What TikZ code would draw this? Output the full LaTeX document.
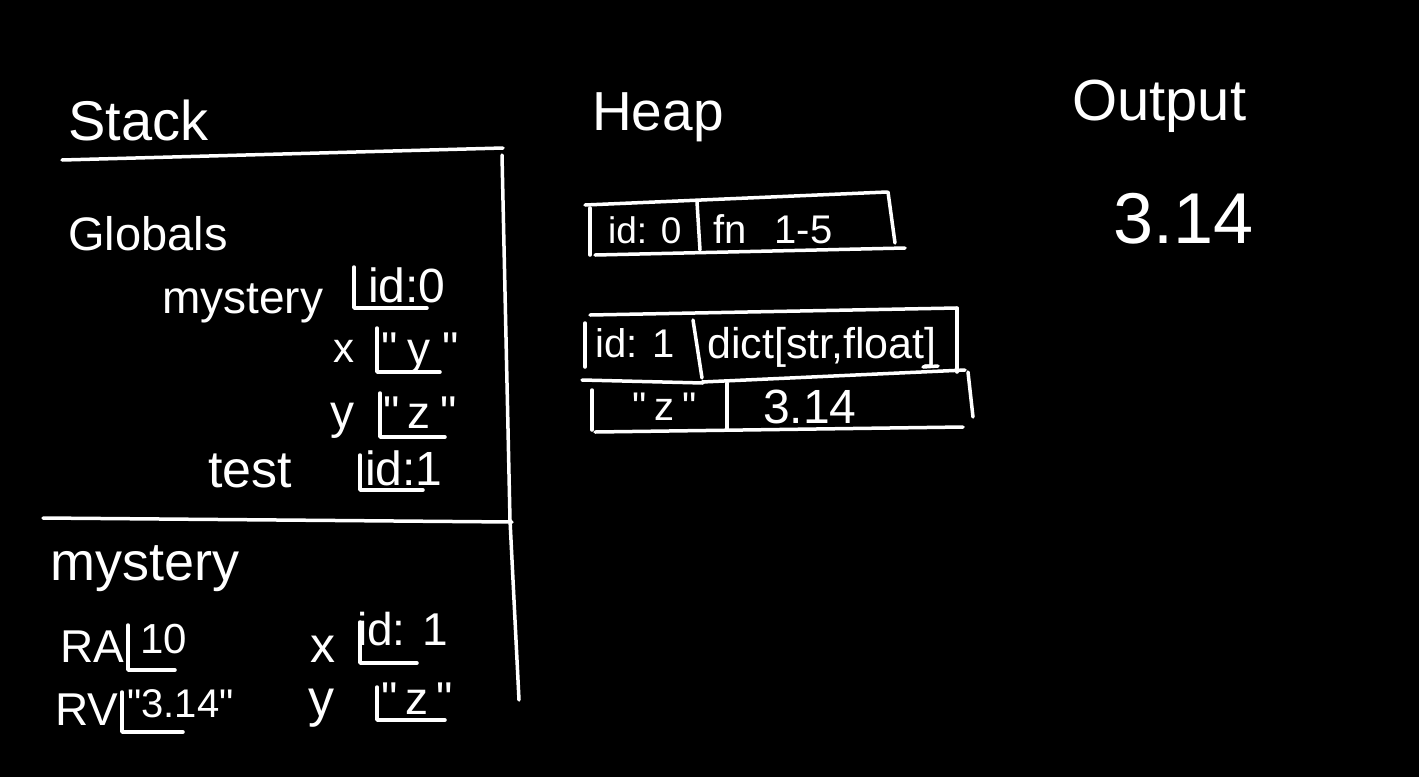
\documentclass[tikz,border=0pt]{standalone}
\usepackage{fontspec}
\setmainfont{Liberation Sans}[Ligatures=TeXOff]
\newcommand\myfs[1]{\fontsize{#1pt}{#1pt}\selectfont}
\begin{document}
\begin{tikzpicture}[x=1pt,y=-1pt,
  lbl/.style={text=white, anchor=base west, inner sep=0pt, font=\myfs{#1}},
  pen/.style={draw=white, line width=3.5pt, line cap=round, line join=round}]
\fill[black] (0,0) rectangle (1419,777);
\useasboundingbox (0,0) rectangle (1419,777);

% ---------- titles ----------
\node[lbl=56] (stack) at (68,140) {Stack};
\node[lbl=55] (heap) at (592,130) {Heap};
\node[lbl=58] (output) at (1072,120) {Output};
\node[lbl=72] (out314) at (1113,243) {3.14};

% ---------- stack frame outline ----------
\draw[pen] (62,160) -- (503,148);
\draw[pen] (502,155) -- (510,520) -- (519,700);
\draw[pen] (43,518) -- (512,522);

% ---------- globals ----------
\node[lbl=47] (globals) at (68,250) {Globals};
\node[lbl=46] (gmystery) at (162,313) {mystery};
\draw[pen] (354,267) -- (354,308) -- (427,308);
\node[lbl=48] (gid0) at (368,302) {id:0};

\node[lbl=42] (gx) at (333,362) {x};
\draw[pen] (377,328) -- (377,372) -- (440,372);
\node[lbl=46] (gxval) at (381,364) {"\hspace{10pt}y\hspace{12pt}"};

\node[lbl=48] (gy) at (330,428) {y};
\draw[pen] (380,393) -- (380,437) -- (445,437);
\node[lbl=46] (gyval) at (383,428) {"\hspace{8pt}z\hspace{10pt}"};

\node[lbl=52] (gtest) at (208,487) {test};
\draw[pen] (360,455) -- (360,490) -- (423,490);
\node[lbl=48] (gid1) at (365,485) {id:1};

% ---------- mystery frame ----------
\node[lbl=54] (fmystery) at (50,580) {mystery};
\node[lbl=46] (fra) at (60,662) {RA};
\draw[pen] (128,625) -- (128,670) -- (175,670);
\node[lbl=42] (fraval) at (140,653) {10};

\node[lbl=46] (frv) at (55,725) {RV};
\draw[pen] (122,692) -- (122,732) -- (183,732);
\node[lbl=40] (frvval) at (127,717) {"3.14"};

\node[lbl=50] (fx) at (310,662) {x};
\draw[pen] (360,622) -- (360,663) -- (417,663);
\node[lbl=46] (fxval) at (357,645) {id: 1};

\node[lbl=52] (fy) at (308,716) {y};
\draw[pen] (377,687) -- (377,720) -- (445,720);
\node[lbl=46] (fyval) at (381,714) {"\hspace{8pt}z\hspace{8pt}"};

% ---------- heap object id 0 ----------
\draw[pen] (585,205) -- (887,192);
\draw[pen] (590,208) -- (590,255);
\draw[pen] (697,202) -- (700,250);
\draw[pen] (888,192) -- (895,243);
\draw[pen] (595,255) -- (905,248);
\node[lbl=37] (hid0) at (608,243) {id: 0};
\node[lbl=40] (hfn) at (713,243) {fn\hspace{28pt}1-5};

% ---------- heap object id 1 ----------
\draw[pen] (590,315) -- (957,308);
\draw[pen] (957,308) -- (957,372);
\draw[pen] (585,323) -- (585,367);
\draw[pen] (693,320) -- (702,378);
\draw[pen] (582,380) -- (703,383);
\draw[pen] (702,382) -- (965,370);
\draw[pen] (923,367) -- (938,366);
\draw[pen] (592,390) -- (592,430);
\draw[pen] (727,383) -- (727,430);
\draw[pen] (968,372) -- (973,417);
\draw[pen] (595,432) -- (963,427);
\node[lbl=40] (hid1) at (595,357) {id: 1};
\node[lbl=43] (hdict) at (707,358) {dict[str,float]};
\node[lbl=40] (hkey) at (632,420) {"\hspace{8pt}z\hspace{8pt}"};
\node[lbl=48] (hval) at (763,423) {3.14};
\end{tikzpicture}
\end{document}
